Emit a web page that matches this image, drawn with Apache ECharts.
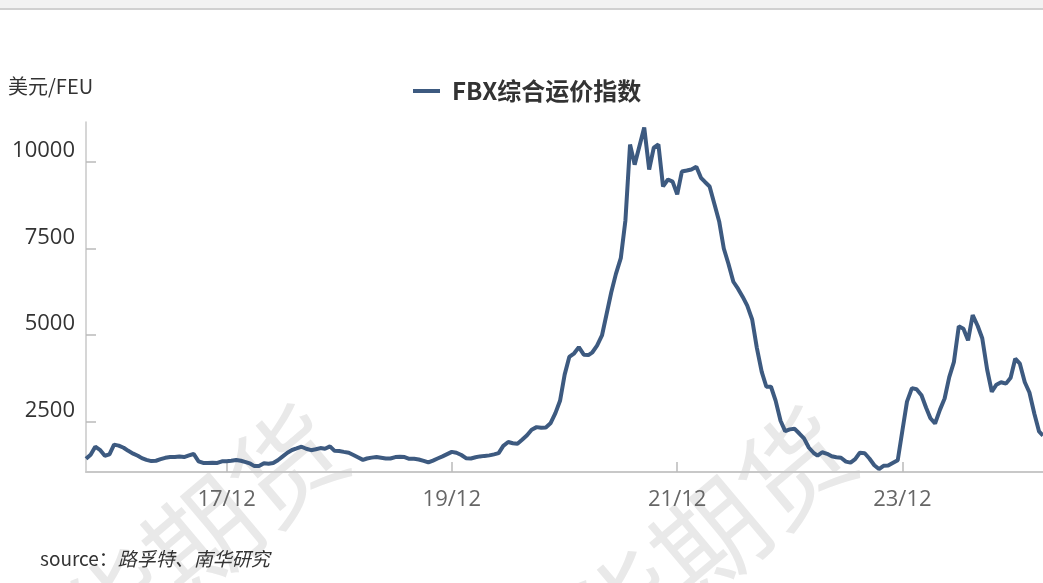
<!DOCTYPE html>
<html><head><meta charset="utf-8">
<script src="https://cdn.jsdelivr.net/npm/echarts@6/dist/echarts.min.js"></script>
<style>html,body{margin:0;padding:0;background:#fff;overflow:hidden}#c{width:1043px;height:583px}</style>
</head><body><div id="c"></div><script>
const seriesName = 'FBX综合运价指数';
const yUnit = '美元/FEU';
const sourceLabel = 'source：';
const sourceOrg = '路孚特、南华研究';
const watermark = '南华期货';

// semi-monthly readings (1st and 16th of each month), USD/FEU
const fbx2016 = [1430,1550,1780,1690,1520,1560,1840,1810]; // from Sep
const fbx2017 = [1750,1660,1580,1520,1450,1400,1365,1375,1420,1460,1480,1480,1495,1480,1530,1570,1360,1310,1310,1320,1310,1360,1360,1375];
const fbx2018 = [1395,1375,1335,1290,1220,1220,1300,1290,1310,1390,1500,1605,1685,1730,1780,1720,1680,1705,1740,1720,1790,1660,1655,1630];
const fbx2019 = [1605,1540,1470,1400,1440,1465,1480,1460,1440,1440,1480,1490,1480,1430,1430,1410,1370,1325,1380,1440,1500,1565,1630,1605];
const fbx2020 = [1540,1450,1440,1475,1500,1515,1530,1560,1595,1805,1915,1880,1865,1980,2110,2270,2345,2325,2335,2455,2750,3105,3860,4370];
const fbx2021 = [4475,4655,4435,4425,4505,4695,4990,5610,6230,6760,7220,8310,10500,9920,10470,10990,9780,10410,10500,9290,9490,9430,9060,9720];
const fbx2022 = [9750,9780,9860,9540,9420,9290,8770,8280,7500,7060,6540,6340,6110,5850,5450,4640,3940,3510,3510,3110,2530,2230,2280,2300];
const fbx2023 = [2160,2020,1750,1605,1520,1620,1575,1505,1475,1460,1350,1320,1420,1605,1590,1440,1245,1135,1230,1235,1315,1390,2240,3080];
const fbx2024 = [3470,3440,3265,2905,2600,2450,2850,3170,3790,4220,5255,5185,4850,5575,5270,4910,4000,3365,3570,3640,3600,3770,4320,4175];
const fbx2025 = [3640,3345,2730,2225,2100];

const yearBlocks = [
  [2016, 8, fbx2016], [2017, 0, fbx2017], [2018, 0, fbx2018], [2019, 0, fbx2019],
  [2020, 0, fbx2020], [2021, 0, fbx2021], [2022, 0, fbx2022], [2023, 0, fbx2023],
  [2024, 0, fbx2024], [2025, 0, fbx2025]
];

const xTickDates = ['2017-12-01', '2019-12-01', '2021-12-01', '2023-12-01'];
const xTickLabels = ['17/12', '19/12', '21/12', '23/12'];
const yTicks = [2500, 5000, 7500, 10000];

function ts(s) { const p = s.split('-').map(Number); return Date.UTC(p[0], p[1] - 1, p[2]); }

const seriesData = [];
yearBlocks.forEach(([yr, m0, vals]) => {
  vals.forEach((v, k) => {
    seriesData.push([Date.UTC(yr, m0 + Math.floor(k / 2), k % 2 ? 16 : 1), v]);
  });
});
const xTickValues = xTickDates.map(ts);

const chart = echarts.init(document.getElementById('c'));
chart.setOption({
  animation: false,
  backgroundColor: '#ffffff',
  grid: { left: 86, right: 0, top: 122, bottom: 111, containLabel: false },
  legend: {
    data: [seriesName],
    left: 413, top: 79, padding: 0,
    icon: 'rect', itemWidth: 27, itemHeight: 4,
    textStyle: { fontSize: 24, fontWeight: 'bold', color: '#333', fontFamily: 'Noto Sans CJK SC', padding: [0, 0, 0, 7] }
  },
  xAxis: {
    type: 'value',
    min: ts('2016-09-01'), max: ts('2025-03-01'),
    axisLine: { lineStyle: { color: '#c8c8c8', width: 2 } },
    axisTick: { show: true, inside: true, length: 10, lineStyle: { color: '#bbbbbb', width: 1.5 }, customValues: xTickValues },
    axisLabel: {
      customValues: xTickValues,
      formatter: function (v) {
        let best = 0, d = Infinity;
        xTickValues.forEach((t, i) => { if (Math.abs(t - v) < d) { d = Math.abs(t - v); best = i; } });
        return xTickLabels[best];
      },
      color: '#666', fontSize: 22, fontFamily: 'Open Sans', margin: 17
    },
    splitLine: { show: false }
  },
  yAxis: {
    type: 'value',
    min: 1050, max: 11150,
    axisLine: { show: true, lineStyle: { color: '#c8c8c8', width: 1.5 } },
    axisTick: { show: true, inside: true, length: 10, lineStyle: { color: '#bbbbbb', width: 1.5 }, customValues: yTicks },
    axisLabel: { customValues: yTicks, formatter: function (v) { return String(v); },
      color: '#333', fontSize: 22, fontFamily: 'Open Sans', margin: 11, verticalAlign: 'bottom' },
    splitLine: { show: false }
  },
  series: [{
    name: seriesName,
    type: 'line',
    data: seriesData,
    showSymbol: false,
    lineStyle: { color: '#3d5a80', width: 4 },
    itemStyle: { color: '#3d5a80' },
    z: 5
  }],
  graphic: [
    { type: 'rect', z: 0, shape: { x: 0, y: 0, width: 1043, height: 8 }, style: { fill: '#f2f2f2' } },
    { type: 'rect', z: 0, shape: { x: 0, y: 8, width: 1043, height: 2 }, style: { fill: '#d0d0d0' } },
    { type: 'text', z: 0, x: 160, y: 572, rotation: 0.7,
      style: { text: watermark, font: '110px "Noto Sans CJK SC"', fill: '#e9e9e9', align: 'center', verticalAlign: 'middle' } },
    { type: 'text', z: 0, x: 668, y: 574, rotation: 0.7,
      style: { text: watermark, font: '110px "Noto Sans CJK SC"', fill: '#e9e9e9', align: 'center', verticalAlign: 'middle' } },
    { type: 'text', z: 10, left: 8, top: 76,
      style: { text: yUnit, font: '20px "Noto Sans CJK SC"', fill: '#333' } },
    { type: 'text', z: 10, left: 40, top: 549,
      style: {
        text: '{a|' + sourceLabel + '}{b|' + sourceOrg + '}',
        rich: {
          a: { fontSize: 19, fontFamily: 'Noto Sans CJK SC', fill: '#333', color: '#333' },
          b: { fontSize: 19, fontFamily: 'Noto Sans CJK SC', fontStyle: 'italic', fill: '#333', color: '#333' }
        }
      } }
  ]
});
</script></body></html>
